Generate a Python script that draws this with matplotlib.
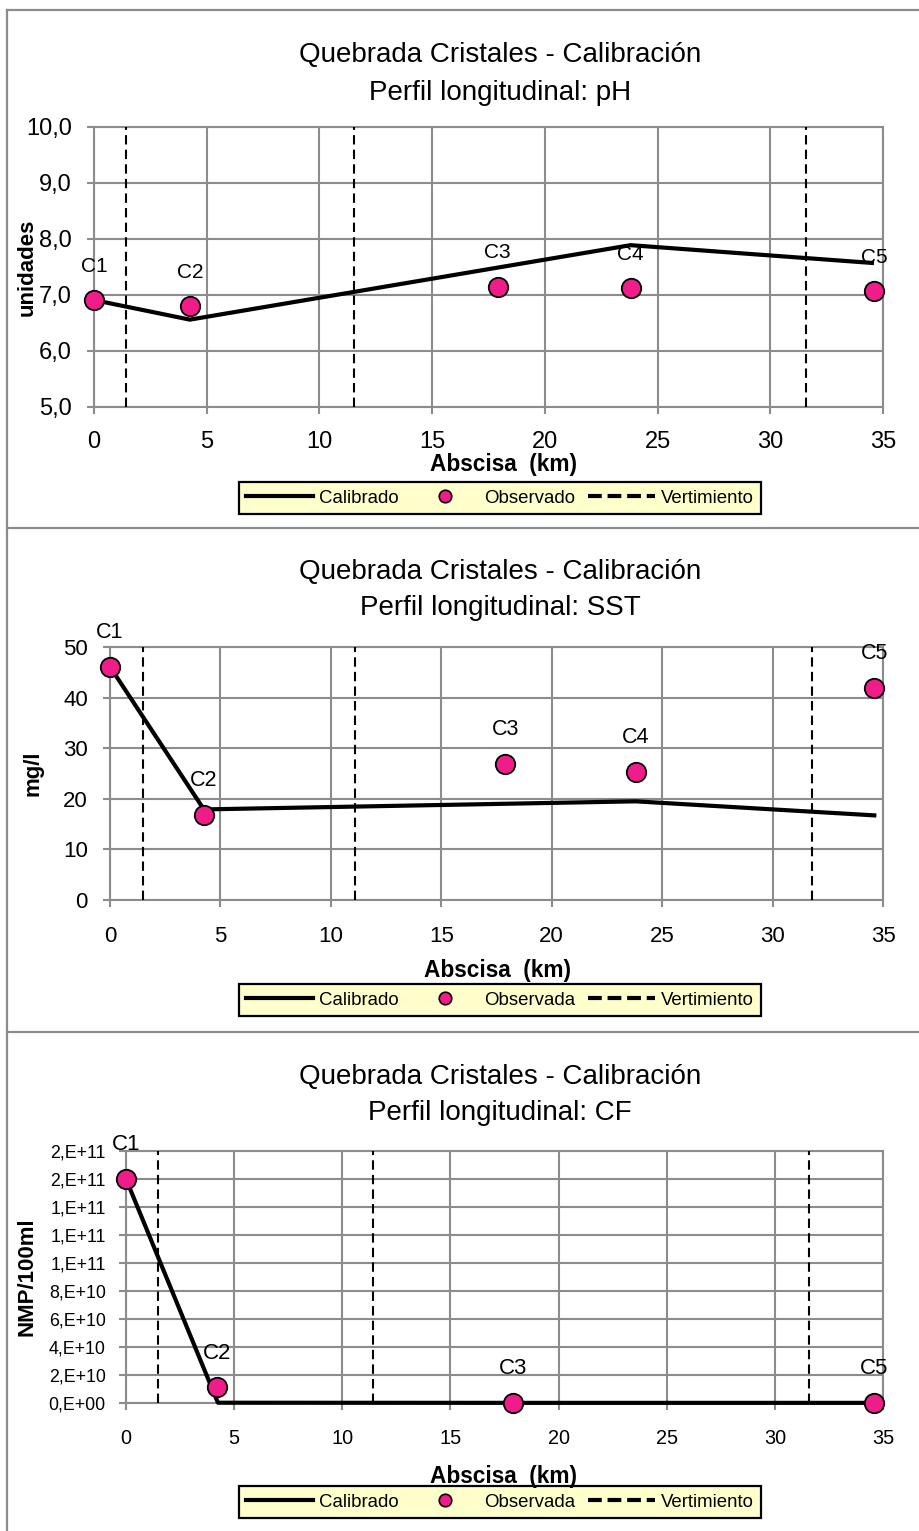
import matplotlib
matplotlib.use("Agg")
import matplotlib.pyplot as plt
from matplotlib.lines import Line2D
from matplotlib import font_manager

# datos
km_obs = [0.0, 4.25, 17.9, 23.8, 34.6]
estaciones = ['C1', 'C2', 'C3', 'C4', 'C5']
vertimientos = [[1.4, 11.55, 31.6], [1.5, 11.1, 31.8], [1.5, 11.4, 31.6]]

ph_km_cal = [0.0, 4.25, 23.8, 34.6]
ph_cal = [6.91, 6.56, 7.89, 7.57]
ph_obs = [6.91, 6.80, 7.15, 7.12, 7.07]

sst_km_cal = [0.0, 4.25, 23.8, 34.7]
sst_cal = [46.1, 17.9, 19.5, 16.7]
sst_obs = [46.1, 16.8, 26.9, 25.3, 41.9]

cf_km_cal = [0.0, 4.25, 17.9, 34.6]
cf_cal = [1.6e11, 2e8, 1e8, 1e8]
cf_est = ['C1', 'C2', 'C3', 'C5']
cf_km_obs = [0.0, 4.2, 17.9, 34.6]
cf_obs = [1.6e11, 1.14e10, 2e8, 1e8]

xticks = [0, 5, 10, 15, 20, 25, 30, 35]
ph_yticks = [5, 6, 7, 8, 9, 10]
ph_ylabels = ['5,0', '6,0', '7,0', '8,0', '9,0', '10,0']
sst_yticks = [0, 10, 20, 30, 40, 50]
cf_yticks = [0, 2e10, 4e10, 6e10, 8e10, 1e11, 1.2e11, 1.4e11, 1.6e11, 1.8e11]
cf_ylabels = ['0,E+00', '2,E+10', '4,E+10', '6,E+10', '8,E+10',
              '1,E+11', '1,E+11', '1,E+11', '2,E+11', '2,E+11']

titulo = 'Quebrada Cristales - Calibración'
subtitulos = ['Perfil longitudinal: pH', 'Perfil longitudinal: SST', 'Perfil longitudinal: CF']
ylabels = ['unidades', 'mg/l', 'NMP/100ml']
obs_nombre = ['Observado', 'Observada', 'Observada']

names = {f.name for f in font_manager.fontManager.ttflist}
if 'Liberation Sans Narrow' in names:
    FONT, K = 'Liberation Sans Narrow', 1.2
else:
    FONT, K = 'Liberation Sans', 1.0
plt.rcParams['font.family'] = [FONT, 'DejaVu Sans']

W, H = 920, 1531
def fx(p):
    return p / W
def fy(p):
    return 1 - p / H

GRIS = '#8c8c8c'
ROSA = '#f01c8a'

fig = plt.figure(figsize=(9.2, 15.31), dpi=100)

# bordes de los paneles
for yy in [10, 528, 1032]:
    fig.add_artist(Line2D([fx(7), 1], [fy(yy), fy(yy)], color=GRIS, lw=1.6, transform=fig.transFigure))
fig.add_artist(Line2D([fx(7), fx(7)], [fy(10), 0], color=GRIS, lw=1.6, transform=fig.transFigure))

# rectangulos en pixeles: izq, der, arriba, abajo
rects = [(94, 883, 127, 407), (110, 883, 647, 900), (126, 883, 1151, 1403)]
tit_y = [(55, 93), (572, 608), (1077, 1113)]
ylab_x = [27, 33, 27]
xlab = [(504, 464), (497, 971), (504, 1476)]
leg_y = [498, 1000, 1502]
tick_fs = [(17, 17), (16, 16), (14.3, 12.8)]
lab_fs = [15, 15.5, 16]
xpad = [12.5, 13.5, 13.5]

datos = [
    (ph_km_cal, ph_cal, km_obs, ph_obs, estaciones, (5, 10), ph_yticks, ph_ylabels),
    (sst_km_cal, sst_cal, km_obs, sst_obs, estaciones, (0, 50), sst_yticks, [str(v) for v in sst_yticks]),
    (cf_km_cal, cf_cal, cf_km_obs, cf_obs, cf_est, (0, 1.8e11), cf_yticks, cf_ylabels),
]

for i, (kc, vc, ko, vo, est, ylim, yt, ytl) in enumerate(datos):
    l, r, t, b = rects[i]
    ax = fig.add_axes([fx(l), fy(b), (r - l) / W, (b - t) / H])
    ax.set_xlim(0, 35)
    ax.set_ylim(*ylim)
    ax.set_xticks(xticks)
    ax.set_yticks(yt)
    ax.set_yticklabels(ytl)
    ax.grid(True, color=GRIS, lw=1.5)
    ax.set_axisbelow(True)
    for s in ax.spines.values():
        s.set_color(GRIS)
        s.set_linewidth(1.5)
    ax.tick_params(axis='x', colors=GRIS, length=5, width=1.5, pad=xpad[i], labelcolor='black',
                   labelsize=tick_fs[i][0] * K)
    ax.tick_params(axis='y', colors=GRIS, length=5, width=1.5, pad=11 if i < 2 else 9.5,
                   labelcolor='black', labelsize=tick_fs[i][1] * K)

    for xv in vertimientos[i]:
        ax.plot([xv, xv], ylim, color='black', lw=1.5, dashes=(4.5, 2.5), zorder=3)
    ax.plot(kc, vc, color='black', lw=3, zorder=4, solid_capstyle='butt', clip_on=False)
    ax.plot(ko, vo, 'o', ms=14, mfc=ROSA, mec='black', mew=1.3, zorder=5, clip_on=False)
    for xv, yv, nm in zip(ko, vo, est):
        ax.annotate(nm, (xv, yv), xytext=(0, 24.5), textcoords='offset points',
                    ha='center', va='center', fontsize=lab_fs[i] * K, annotation_clip=False, zorder=6)

    fig.text(fx(500), fy(tit_y[i][0]), titulo, ha='center', va='center', fontsize=20 * K)
    fig.text(fx(500), fy(tit_y[i][1]), subtitulos[i], ha='center', va='center', fontsize=20 * K)
    fig.text(fx(ylab_x[i]), fy((t + b) / 2), ylabels[i], rotation=90, ha='center', va='center',
             fontsize=16 * K, fontweight='bold')
    fig.text(fx(xlab[i][0]), fy(xlab[i][1]), 'Abscisa  (km)', ha='center', va='center',
             fontsize=16.3 * K, fontweight='bold', zorder=8)

    handles = [
        Line2D([], [], color='black', lw=3),
        Line2D([], [], ls='none', marker='o', ms=9, mfc=ROSA, mec='black', mew=1.2),
        Line2D([], [], color='black', lw=3, dashes=(3.3, 1.4)),
    ]
    leg = fig.legend(handles, ['Calibrado', obs_nombre[i], 'Vertimiento'], loc='center',
                     bbox_to_anchor=(fx(500), fy(leg_y[i])), ncol=3, fontsize=13.4 * K,
                     handlelength=3.6, handletextpad=0.3, columnspacing=0.7,
                     borderpad=0.4, borderaxespad=0, fancybox=False, framealpha=1)
    leg.set_zorder(7)
    fr = leg.get_frame()
    fr.set_facecolor('#ffffcc')
    fr.set_edgecolor('black')
    fr.set_linewidth(1.6)

fig.savefig('out.png', dpi=100)
